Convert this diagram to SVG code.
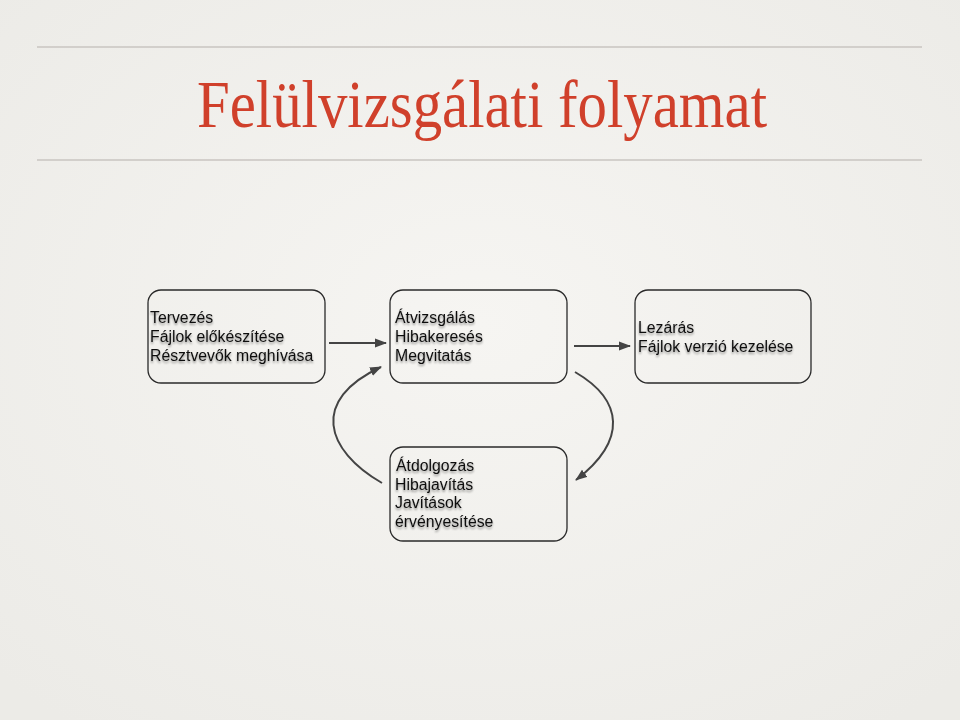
<svg xmlns="http://www.w3.org/2000/svg" width="960" height="720" viewBox="0 0 960 720">
<defs>
<radialGradient id="bg" cx="50%" cy="45%" r="70%">
<stop offset="0" stop-color="#f6f5f2"/>
<stop offset="1" stop-color="#ecebe7"/>
</radialGradient>
<marker id="ah" viewBox="0 0 12 10" refX="11" refY="5" markerWidth="12" markerHeight="10" markerUnits="userSpaceOnUse" orient="auto">
<path d="M0,0.5 L12,5 L0,9.5 z" fill="#444"/>
</marker>
<filter id="sh" x="-10%" y="-20%" width="120%" height="150%">
<feGaussianBlur in="SourceAlpha" stdDeviation="1.1"/>
<feOffset dx="0" dy="1.5" result="b"/>
<feComponentTransfer><feFuncA type="linear" slope="0.4"/></feComponentTransfer>
<feMerge><feMergeNode/><feMergeNode in="SourceGraphic"/></feMerge>
</filter>
</defs>
<style>
.box{fill:none;stroke:#2a2a2a;stroke-width:1.3}
.t{font-family:"Liberation Sans",Arial,sans-serif;font-size:15.8px;fill:#111}
.c{fill:none;stroke:#444;stroke-width:2}
.rule{stroke:#c9c5c1;stroke-width:1.5}
</style>
<rect width="960" height="720" fill="url(#bg)"/>
<line class="rule" x1="37" y1="47" x2="922" y2="47"/>
<line class="rule" x1="37" y1="160" x2="922" y2="160"/>
<text x="197" y="127" font-family="'Liberation Serif','Times New Roman',serif" font-size="68" fill="#d0402b" textLength="570" lengthAdjust="spacingAndGlyphs">Felülvizsgálati folyamat</text>

<g id="connectors">
<line class="c" x1="329" y1="343" x2="386" y2="343" marker-end="url(#ah)"/>
<line class="c" x1="574" y1="346" x2="630" y2="346" marker-end="url(#ah)"/>
<path class="c" d="M382,483 C325,450 310,400 381,367" marker-end="url(#ah)"/>
<path class="c" d="M575,372 C623,400 628,440 576,480" marker-end="url(#ah)"/>
</g>

<g id="n1">
<rect class="box" x="148" y="290" width="177" height="93" rx="13"/>
<g class="t" filter="url(#sh)">
<text x="150" y="323">Tervezés</text>
<text x="150" y="342">Fájlok előkészítése</text>
<text x="150" y="361">Résztvevők meghívása</text>
</g>
</g>
<g id="n2">
<rect class="box" x="390" y="290" width="177" height="93" rx="13"/>
<g class="t" filter="url(#sh)">
<text x="395" y="323">Átvizsgálás</text>
<text x="395" y="342">Hibakeresés</text>
<text x="395" y="361">Megvitatás</text>
</g>
</g>
<g id="n3">
<rect class="box" x="635" y="290" width="176" height="93" rx="13"/>
<g class="t" filter="url(#sh)">
<text x="638" y="333">Lezárás</text>
<text x="638" y="352">Fájlok verzió kezelése</text>
</g>
</g>
<g id="n4">
<rect class="box" x="390" y="447" width="177" height="94" rx="13"/>
<g class="t" filter="url(#sh)">
<text x="396" y="471">Átdolgozás</text>
<text x="395" y="490">Hibajavítás</text>
<text x="395" y="508">Javítások</text>
<text x="395" y="527">érvényesítése</text>
</g>
</g>
</svg>
